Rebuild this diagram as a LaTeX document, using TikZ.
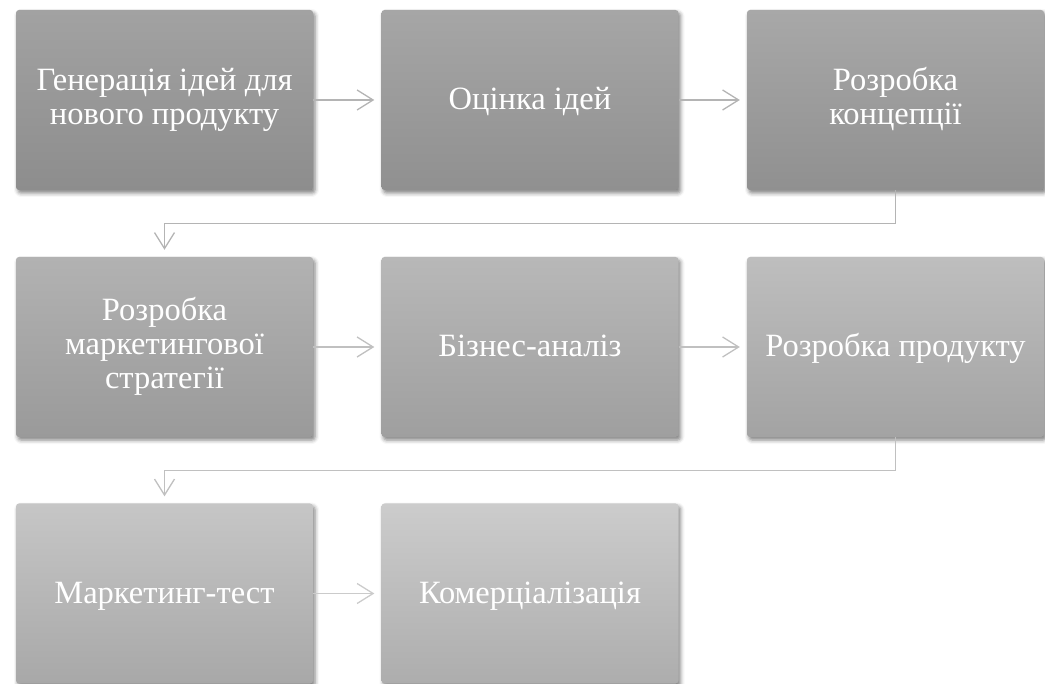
\documentclass[tikz,border=0pt]{standalone}
\usepackage{fontspec}
\setmainfont{Liberation Serif}
\usetikzlibrary{arrows.meta,shadows.blur}
\newcommand\mytopstrut{\rule{0pt}{27pt}}
\newcommand\mybotstrut{\rule[-8pt]{0pt}{8pt}}
\begin{document}
\begin{tikzpicture}[x=1pt,y=-1pt,
  box/.style={rectangle, rounded corners=3pt, minimum width=297pt, minimum height=180pt,
    inner sep=2pt, align=center, text=white,
    font=\fontsize{32.5}{34}\selectfont,
    execute at begin node=\mytopstrut, execute at end node=\mybotstrut,
    blur shadow={shadow xshift=2pt, shadow yshift=-3pt, shadow blur radius=4pt, shadow opacity=50}},
  link/.style={line width=1.3pt, -{Straight Barb[length=16pt,width=20pt,line width=1.3pt]}},
]
\useasboundingbox (0,0) rectangle (1045,684);
\definecolor{t1}{RGB}{162,162,162}\definecolor{b1}{RGB}{141,141,141}
\definecolor{t2}{RGB}{166,166,166}\definecolor{b2}{RGB}{144,144,144}
\definecolor{t3}{RGB}{168,168,168}\definecolor{b3}{RGB}{144,144,144}
\definecolor{t4}{RGB}{178,178,178}\definecolor{b4}{RGB}{154,154,154}
\definecolor{t5}{RGB}{184,184,184}\definecolor{b5}{RGB}{159,159,159}
\definecolor{t6}{RGB}{190,190,190}\definecolor{b6}{RGB}{163,163,163}
\definecolor{t7}{RGB}{198,198,198}\definecolor{b7}{RGB}{168,168,168}
\definecolor{t8}{RGB}{204,204,204}\definecolor{b8}{RGB}{173,173,173}
\definecolor{l1}{RGB}{180,180,180}
\definecolor{l2}{RGB}{192,192,192}
\definecolor{l3}{RGB}{203,203,203}

\node[box, top color=t1, bottom color=b1] (n1) at (164.5,100) {Генерація ідей для\\нового продукту};
\node[box, top color=t2, bottom color=b2] (n2) at (530,100) {Оцінка ідей};
\node[box, top color=t3, bottom color=b3] (n3) at (895.5,100) {Розробка\\концепції};
\node[box, top color=t4, bottom color=b4] (n4) at (164.5,347) {Розробка\\маркетингової\\стратегії};
\node[box, top color=t5, bottom color=b5] (n5) at (530,347) {Бізнес-аналіз};
\node[box, top color=t6, bottom color=b6] (n6) at (895.5,347) {Розробка продукту};
\node[box, top color=t7, bottom color=b7] (n7) at (164.5,593.5) {Маркетинг-тест};
\node[box, top color=t8, bottom color=b8] (n8) at (530,593.5) {Комерціалізація};

\draw[link, draw=l1, shorten >=7pt] (n1.east) -- (n2.west);
\draw[link, draw=l1, shorten >=7pt] (n2.east) -- (n3.west);
\draw[link, draw=l1, shorten >=7pt] (n3.south) -- ++(0,33) -| (n4.north);
\draw[link, draw=l2, shorten >=7pt] (n4.east) -- (n5.west);
\draw[link, draw=l2, shorten >=7pt] (n5.east) -- (n6.west);
\draw[link, draw=l2, shorten >=7pt] (n6.south) -- ++(0,33) -| (n7.north);
\draw[link, draw=l3, shorten >=7pt] (n7.east) -- (n8.west);
\end{tikzpicture}
\end{document}
